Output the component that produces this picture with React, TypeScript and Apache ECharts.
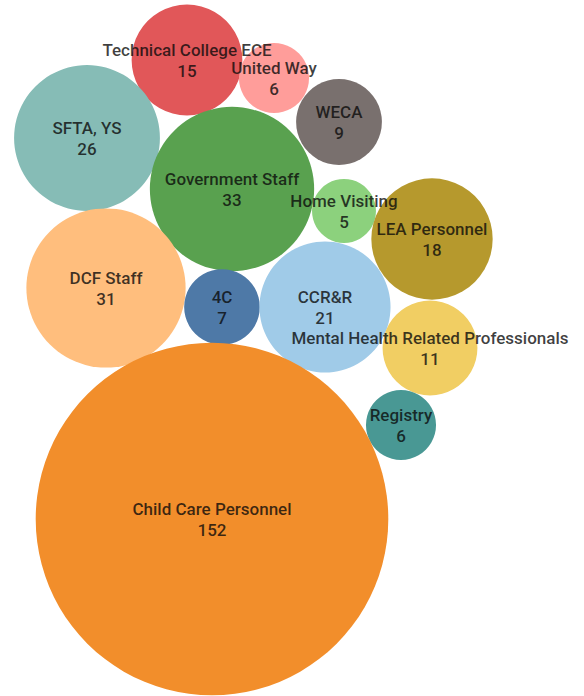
import React, { useEffect, useRef } from "react";
import * as echarts from "echarts";

// Participant groups and their counts
const groups = [
  "Technical College ECE",
  "United Way",
  "SFTA, YS",
  "Government Staff",
  "WECA",
  "Home Visiting",
  "LEA Personnel",
  "DCF Staff",
  "4C",
  "CCR&R",
  "Mental Health Related Professionals",
  "Registry",
  "Child Care Personnel",
];
const counts = [15, 6, 26, 33, 9, 5, 18, 31, 7, 21, 11, 6, 152];

// Packed-bubble layout coordinates (layout units)
const packX = [187, 274, 87, 232, 339, 344, 432, 106, 222, 325, 430, 401, 212];
const packY = [60, 78, 138, 189, 122, 211, 239, 288, 307, 307, 348, 425, 519];

const palette = [
  "#e15759",
  "#ff9d9a",
  "#86bcb6",
  "#59a14f",
  "#79706e",
  "#8cd17d",
  "#b6992d",
  "#ffbe7d",
  "#4e79a7",
  "#a0cbe8",
  "#f1ce63",
  "#499894",
  "#f28e2b",
];

// bubble area proportional to the count
const RADIUS_PER_SQRT = 14.3;

export default function App() {
  const ref = useRef<HTMLDivElement>(null);

  useEffect(() => {
    if (!ref.current) return;
    const chart = echarts.init(ref.current, null, { renderer: "svg" });
    const data = groups.map((name, i) => ({
      name,
      value: [packX[i], packY[i], counts[i]],
      itemStyle: { color: palette[i] },
    }));
    chart.setOption({
      animation: false,
      grid: { left: 0, top: 0, width: 584, height: 696 },
      xAxis: { type: "value", min: 0, max: 584, show: false },
      yAxis: { type: "value", min: 0, max: 696, inverse: true, show: false },
      series: [
        {
          type: "scatter",
          data,
          symbol: "circle",
          symbolSize: (val: number[]) => 2 * RADIUS_PER_SQRT * Math.sqrt(val[2]),
          itemStyle: { opacity: 1 },
          label: {
            show: true,
            position: "inside",
            formatter: (p: any) => `${p.name}\n${p.value[2]}`,
            fontFamily: "Roboto",
            fontSize: 17,
            fontWeight: 500,
            lineHeight: 21,
            color: "rgba(10,10,10,0.78)",
          },
          emphasis: { disabled: true },
        },
      ],
    });
    return () => chart.dispose();
  }, []);

  return (
    <div
      ref={ref}
      style={{ position: "fixed", left: 0, top: 0, width: 584, height: 696, background: "#fff" }}
    />
  );
}
